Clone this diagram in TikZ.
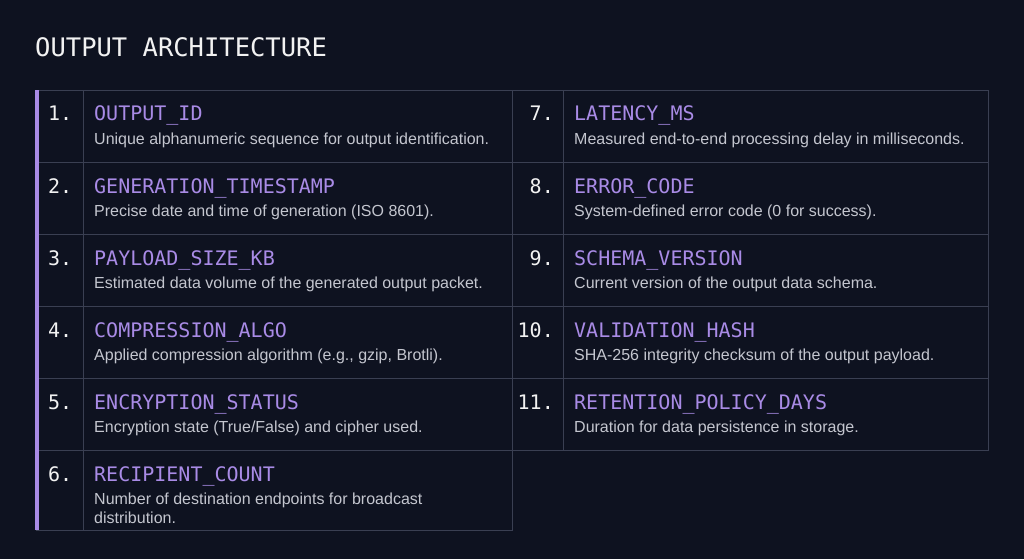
\documentclass[tikz,border=0pt]{standalone}
\usepackage{fontspec}
\setmainfont{Liberation Sans}
\setmonofont{DejaVu Sans Mono}
\definecolor{bg}{HTML}{0E1220}
\definecolor{pur}{HTML}{A98BE6}
\definecolor{grid}{HTML}{3A3F52}
\definecolor{desc}{HTML}{C4C6CF}
\definecolor{ttl}{HTML}{F2F2F2}
\tikzset{
 num/.style={anchor=base west,inner sep=0,font=\ttfamily\fontsize{20}{20}\selectfont,text=ttl},
 nam/.style={anchor=base west,inner sep=0,font=\ttfamily\fontsize{20}{20}\selectfont,text=pur},
 dsc/.style={anchor=north west,inner sep=0,font=\fontsize{16}{19}\selectfont,text=desc,align=left},
 cell/.style={draw=grid,line width=0.9pt}
}
\begin{document}
\begin{tikzpicture}[x=1pt,y=-1pt]
\fill[bg] (0,0) rectangle (1024,559);
\useasboundingbox (0,0) rectangle (1024,559);
\node[anchor=base west,inner sep=0,font=\ttfamily\fontsize{25.5}{26}\selectfont,text=ttl] (title) at (35,57) {OUTPUT ARCHITECTURE};
\foreach \i in {0,...,5}{
 \pgfmathsetmacro{\t}{90+72*\i}
 \pgfmathsetmacro{\b}{\i==5 ? 530 : 162+72*\i}
 \draw[cell] (36,\t) rectangle (83,\b);
 \draw[cell] (83,\t) rectangle (512,\b);
}
\foreach \i in {0,...,4}{
 \pgfmathsetmacro{\t}{90+72*\i}
 \pgfmathsetmacro{\b}{162+72*\i}
 \draw[cell] (512,\t) rectangle (563,\b);
 \draw[cell] (563,\t) rectangle (988,\b);
}
\fill[pur] (35,90) rectangle (39,530);
\foreach \n/\k/\d [count=\i from 0] in {
 1./OUTPUT\_ID/{Unique alphanumeric sequence for output identification.},
 2./GENERATION\_TIMESTAMP/{Precise date and time of generation (ISO 8601).},
 3./PAYLOAD\_SIZE\_KB/{Estimated data volume of the generated output packet.},
 4./COMPRESSION\_ALGO/{Applied compression algorithm (e.g., gzip, Brotli).},
 5./ENCRYPTION\_STATUS/{Encryption state (True/False) and cipher used.},
 6./RECIPIENT\_COUNT/{Number of destination endpoints for broadcast\\distribution.}}{
 \pgfmathsetmacro{\y}{90+72*\i}
 \node[num] (ln\i) at (48,\y+31) {\n};
 \node[nam] (lk\i) at (94,\y+31) {\k};
 \node[dsc] (ld\i) at (94,\y+43) {\d};
}
\foreach \n/\k/\d [count=\i from 0] in {
 7./LATENCY\_MS/{Measured end-to-end processing delay in milliseconds.},
 8./ERROR\_CODE/{System-defined error code (0 for success).},
 9./SCHEMA\_VERSION/{Current version of the output data schema.},
 10./VALIDATION\_HASH/{SHA-256 integrity checksum of the output payload.},
 11./RETENTION\_POLICY\_DAYS/{Duration for data persistence in storage.}}{
 \pgfmathsetmacro{\y}{90+72*\i}
 \node[num,anchor=base east] (rn\i) at (554,\y+31) {\n};
 \node[nam] (rk\i) at (574,\y+31) {\k};
 \node[dsc] (rd\i) at (574,\y+43) {\d};
}
\end{tikzpicture}
\end{document}
